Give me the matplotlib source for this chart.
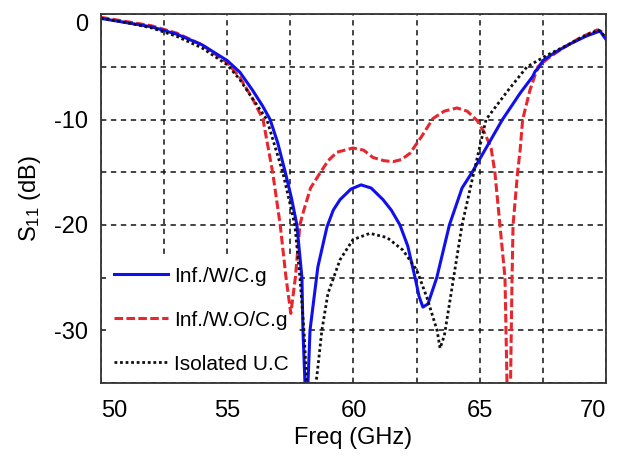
import matplotlib
matplotlib.use("Agg")
import matplotlib.pyplot as plt

plt.rcParams['font.family'] = ['Liberation Sans', 'DejaVu Sans']
plt.rcParams['mathtext.fontset'] = 'custom'
plt.rcParams['mathtext.rm'] = 'Liberation Sans'

# Inf./W/C.g  (blue, solid)
freq_wcg = [50, 51, 52, 53, 54, 55, 55.5, 56, 56.4, 56.7, 57.0, 57.3, 57.55, 57.76,
            57.96, 58.0, 58.08, 58.14, 58.2, 58.28, 58.59, 58.95, 59.2, 59.47, 59.9,
            60.3, 60.7, 61.17, 61.5, 61.84, 62.15, 62.44, 62.6, 62.75, 62.95, 63.3,
            63.8, 64.3, 64.7, 65.3, 65.9, 66.6, 67.1, 67.2, 67.3, 67.5, 68.0, 68.6,
            69.2, 69.76, 70.0]
s11_wcg = [-0.4, -0.8, -1.2, -1.9, -2.9, -4.4, -5.5, -7.2, -8.7, -10, -12.2, -15, -17.5, -20,
           -25, -30, -35, -38, -35, -30, -24, -20.2, -18.6, -17.6, -16.6,
           -16.2, -16.5, -17.6, -18.6, -20, -22, -25, -26.8, -27.8, -27.5, -25,
           -20, -16.5, -15, -12.5, -10, -7.5, -5.9, -5.4, -5.2, -4.4, -3.6, -2.8,
           -2.1, -1.6, -2.4]

# Inf./W.O/C.g  (red, dashed)
freq_wocg = [50, 51, 52, 53, 54, 55, 55.5, 56, 56.42, 56.8, 57.1, 57.33, 57.52, 57.7,
             57.88, 58.0, 58.3, 58.67, 59.0, 59.35, 59.98, 60.4, 60.77, 61.2, 61.56,
             61.9, 62.24, 62.7, 63.15, 63.6, 64.1, 64.5, 64.9, 65.2, 65.45, 65.6,
             65.8, 66.0, 66.08, 66.15, 66.22, 66.28, 66.32, 66.5, 66.6, 66.7, 66.99,
             67.3, 67.7, 68.3, 69.0, 69.64, 70.0]
s11_wocg = [-0.3, -0.7, -1.1, -1.8, -2.9, -4.6, -6.0, -8.0, -10, -15, -20, -25, -28.4, -25,
            -20, -18.9, -16.5, -15.1, -13.9, -13.1, -12.7, -12.9, -13.6, -13.9, -14.0,
            -13.8, -13.2, -11.6, -9.9, -9.2, -8.9, -9.2, -10.1, -11.3, -12.7, -15,
            -20, -25, -35, -40, -35, -25, -20, -15, -12.9, -10, -7.2,
            -5, -4.2, -3.2, -2.2, -1.5, -1.8]

# Isolated U.C  (black, dotted)
freq_iso = [50, 51, 52, 53, 54, 55, 55.5, 56, 56.57, 57.2, 57.68, 57.88, 58.04, 58.15,
            58.3, 58.55, 58.75, 58.99, 59.47, 59.98, 60.65, 61.33, 61.96, 62.51, 62.91,
            63.31, 63.43, 63.6, 63.9, 64.3, 64.75, 65.25, 66.1, 66.87, 67.66, 68.5,
            69.2, 69.7, 70.0]
s11_iso = [-0.4, -0.8, -1.3, -2.1, -3.2, -4.8, -6.2, -8.0, -10, -15, -20, -25, -30, -35,
           -38, -34.4, -30, -26.5, -23.3, -21.4, -20.8, -21.2, -22.4, -24.3, -26.9,
           -30, -31.7, -30.5, -26, -20, -15.2, -10, -7.3, -5, -3.9, -2.9,
           -2.0, -1.5, -2.2]

x_ticks = [50, 55, 60, 65, 70]
y_ticks = [0, -10, -20, -30]

fig = plt.figure(figsize=(6.19, 4.57), dpi=100)
ax = fig.add_axes([0.163, 0.162, 0.816, 0.807])

ax.plot(freq_wcg, s11_wcg, color='#1010ee', lw=2.2, label='Inf./W/C.g', zorder=4)
ax.plot(freq_wocg, s11_wocg, color='#e8262e', lw=2.2, linestyle=(0, (2.8, 1.1)),
        label='Inf./W.O/C.g', zorder=3)
ax.plot(freq_iso, s11_iso, color='#111111', lw=2.0, linestyle=(0, (1, 1)),
        label='Isolated U.C', zorder=5)

ax.set_xlim(50, 70)
ax.set_ylim(-35, 0)

# grid every 2.5 GHz and 5 dB
ax.set_xticks(x_ticks)
ax.set_xticklabels([str(v) for v in x_ticks])
ax.set_yticks(y_ticks)
ax.set_yticklabels([str(v) for v in y_ticks])
ax.set_xticks([50 + 2.5 * i for i in range(9)], minor=True)
ax.set_yticks([-35 + 5 * i for i in range(8)], minor=True)
ax.grid(which='both', color='#111111', linestyle=(0, (3.5, 3)), lw=1.1)
ax.set_axisbelow(True)

ax.tick_params(which='both', length=0)
ax.tick_params(axis='x', labelsize=17, pad=12)
ax.tick_params(axis='y', labelsize=17, pad=9)
xl = ax.get_xticklabels()
xl[0].set_ha('left')
xl[-1].set_ha('right')
ax.get_yticklabels()[0].set_va('top')

for sp in ax.spines.values():
    sp.set_color('#333333')
    sp.set_linewidth(1.3)
    sp.set_zorder(6)

ax.set_xlabel('Freq (GHz)', fontsize=17, labelpad=4)
ax.set_ylabel(r'$\mathregular{S_{11}}$ (dB)', fontsize=17, labelpad=8)

leg = ax.legend(loc='lower left', bbox_to_anchor=(0.01, 0.003), frameon=True, fontsize=15,
                handlelength=2.6, handletextpad=0.25, labelspacing=1.2,
                borderaxespad=0.0, borderpad=0.4, fancybox=False, framealpha=1.0)
leg.get_frame().set_facecolor('white')
leg.get_frame().set_edgecolor('white')
leg.get_frame().set_linewidth(0)
leg.set_zorder(2.5)

fig.savefig('out.png', dpi=100)
